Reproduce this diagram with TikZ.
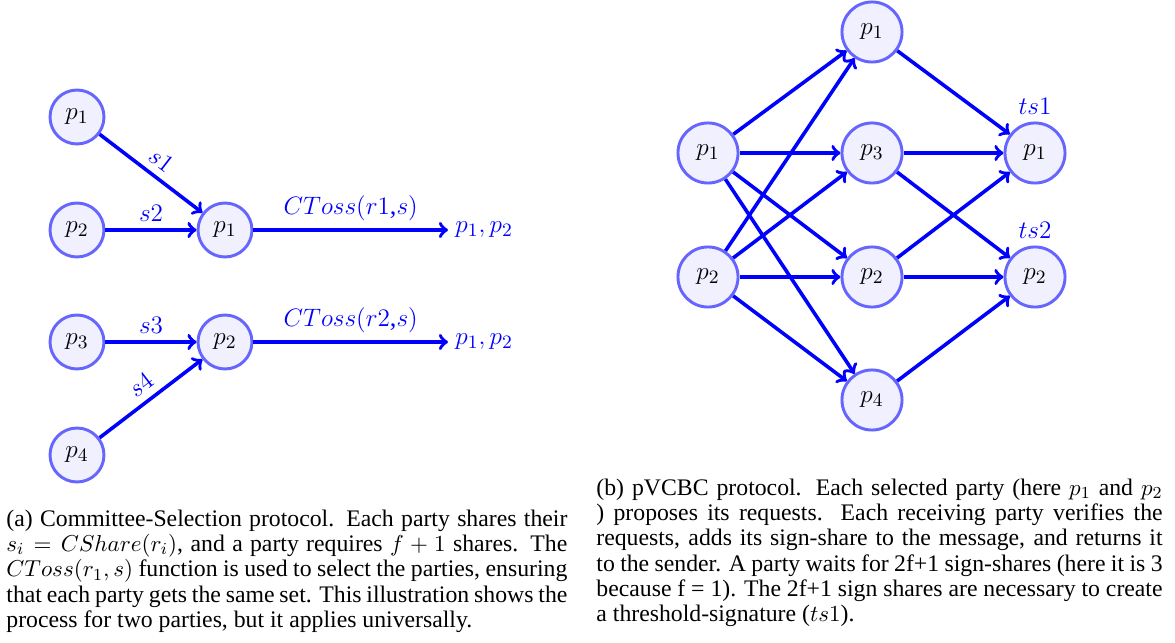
\documentclass[tikz,border=0pt]{standalone}
\usepackage{fontspec}
\setmainfont{Liberation Serif}
\usepackage{tikz}

\tikzset{
  party/.style={circle, draw=blue!60, fill=blue!6, line width=1.4pt, minimum size=25.7pt, inner sep=0pt, font=\fontsize{12.5}{15}\selectfont},
  bigparty/.style={party, minimum size=28.6pt},
  msg/.style={->, draw=blue, line width=1.7pt},
  lbl/.style={text=blue, font=\fontsize{12.5}{15}\selectfont},
  capt/.style={anchor=north west, inner sep=0pt, align=justify, font=\fontsize{11.3}{12.05}\selectfont}
}

\begin{document}
\begin{tikzpicture}[x=0.476pt, y=-0.476pt]
   \useasboundingbox (0,0) rectangle (1175,643);

   % committee selection
   \node[party] (a1) at (77,117) {$p_1$};
   \node[party] (a2) at (77,230) {$p_2$};
   \node[party] (a3) at (77,342) {$p_3$};
   \node[party] (a4) at (77,455) {$p_4$};
   \node[party] (c1) at (225,230) {$p_1$};
   \node[party] (c2) at (225,342) {$p_2$};
   \node[lbl, anchor=west] (o1) at (448,230) {$p_1,p_2$};
   \node[lbl, anchor=west] (o2) at (448,342) {$p_1,p_2$};

   \draw[msg] (a1) -- node[lbl, above, sloped] {$s1$} (c1);
   \draw[msg] (a2) -- node[lbl, above] {$s2$} (c1);
   \draw[msg] (a3) -- node[lbl, above] {$s3$} (c2);
   \draw[msg] (a4) -- node[lbl, above, sloped] {$s4$} (c2);
   \draw[msg] (c1) -- node[lbl, above] {$CToss(r1$,$s)$} (o1);
   \draw[msg] (c2) -- node[lbl, above] {$CToss(r2$,$s)$} (o2);

   % pVCBC
   \node[bigparty] (s1) at (708,153) {$p_1$};
   \node[bigparty] (s2) at (708,277) {$p_2$};
   \node[bigparty] (v1) at (872,32) {$p_1$};
   \node[bigparty] (v3) at (872,153) {$p_3$};
   \node[bigparty] (v2) at (872,277) {$p_2$};
   \node[bigparty] (v4) at (872,400) {$p_4$};
   \node[bigparty, label={[lbl]above:$ts1$}] (t1) at (1035,153) {$p_1$};
   \node[bigparty, label={[lbl]above:$ts2$}] (t2) at (1035,277) {$p_2$};

   \draw[msg] (s1) -- (v1);
   \draw[msg] (s1) -- (v3);
   \draw[msg] (s1) -- (v2);
   \draw[msg] (s1) -- (v4);
   \draw[msg] (s2) -- (v1);
   \draw[msg] (s2) -- (v3);
   \draw[msg] (s2) -- (v2);
   \draw[msg] (s2) -- (v4);
   \draw[msg] (v1) -- (t1);
   \draw[msg] (v3) -- (t1);
   \draw[msg] (v3) -- (t2);
   \draw[msg] (v2) -- (t1);
   \draw[msg] (v2) -- (t2);
   \draw[msg] (v4) -- (t2);

   % captions
   \node[capt, text width=267pt] (capa) at (6,508) {\strut(a) Committee-Selection protocol. Each party shares their\linebreak $s_i = CShare(r_i)$, and a party requires $f+1$ shares. The\linebreak $CToss(r_1, s)$ function is used to select the parties, ensuring\linebreak that each party gets the same set. This illustration shows the\linebreak process for two parties, but it applies universally.};
   \node[capt, text width=269.5pt] (capb) at (596,477) {\strut(b) pVCBC protocol. Each selected party (here $p_1$ and $p_2$\linebreak ) proposes its requests.  Each receiving party verifies the\linebreak requests, adds its sign-share to the message, and returns it\linebreak to the sender. A party waits for 2f+1 sign-shares (here it is 3\linebreak because f = 1). The 2f+1 sign shares are necessary to create\linebreak a threshold-signature ($ts1$).};
\end{tikzpicture}
\end{document}
